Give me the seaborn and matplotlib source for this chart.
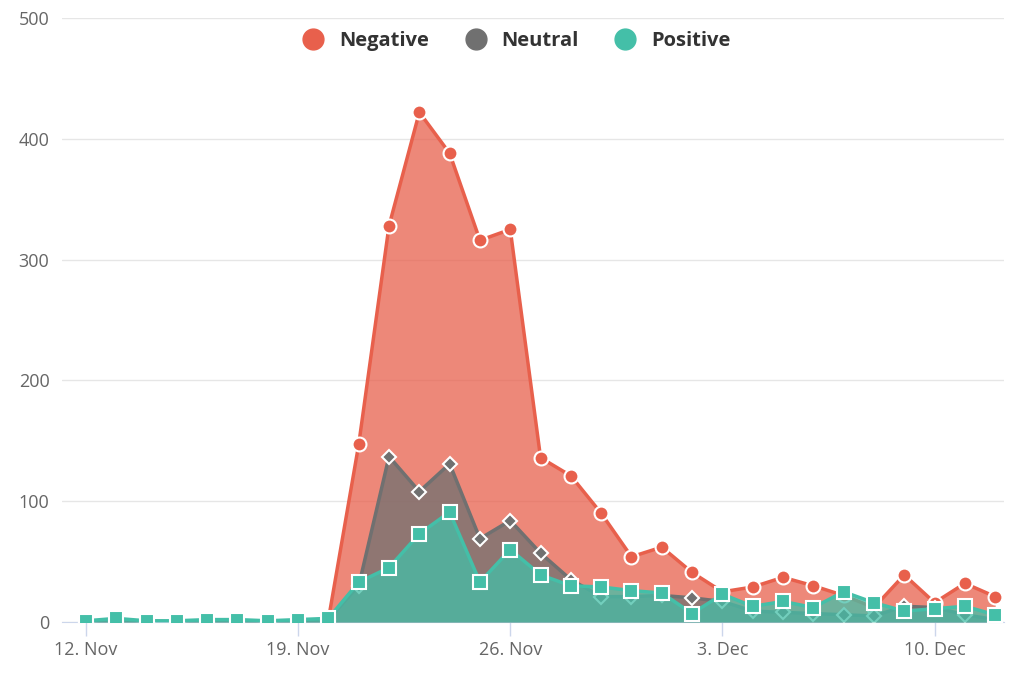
import matplotlib
matplotlib.use("Agg")
import matplotlib.pyplot as plt
import matplotlib.dates as mdates
from matplotlib.lines import Line2D
import seaborn as sns
import pandas as pd

# daily mention counts, 12 Nov - 12 Dec
dates = pd.date_range("2017-11-12", "2017-12-12", freq="D")
negative = [1, 0, 1, 0, 1, 1, 0, 1, 2, 147, 328, 422, 388, 316, 325, 136,
            121, 90, 54, 62, 41, 25, 29, 37, 30, 22, 12, 39, 16, 32, 21]
neutral = [0, 1, 0, 0, 1, 1, 0, 1, 2, 30, 137, 108, 131, 69, 84, 57,
           35, 21, 21, 22, 20, 17, 9, 8, 7, 6, 5, 13, 12, 6, 2]
positive = [1, 3, 1, 1, 2, 2, 1, 2, 3, 33, 45, 73, 91, 33, 60, 39,
            30, 29, 26, 24, 7, 23, 13, 17, 12, 25, 16, 9, 11, 13, 6]
tick_dates = pd.to_datetime(["2017-11-12", "2017-11-19", "2017-11-26",
                             "2017-12-03", "2017-12-10"])

series = [
    ("Negative", negative, "#e8604c", "o", 10),
    ("Neutral", neutral, "#707070", "D", 7.5),
    ("Positive", positive, "#44bfa8", "s", 10),
]

sns.set_style("white")
plt.rcParams["font.family"] = ["Open Sans", "DejaVu Sans"]

fig = plt.figure(figsize=(10.24, 6.83), dpi=100)
ax = fig.add_axes([0.0605, 0.0893, 0.92, 0.8843])

for i, (name, vals, color, marker, ms) in enumerate(series):
    z = 2 + i * 3
    ax.fill_between(dates, vals, 0, color=color, alpha=0.75, lw=0, zorder=z)
    sns.lineplot(x=dates, y=vals, ax=ax, color=color, lw=2.5, marker=marker,
                 markersize=ms, markeredgecolor="white", markeredgewidth=1.5,
                 zorder=z + 1, legend=False)

ax.set_ylim(0, 500)
ax.set_yticks(range(0, 501, 100))
ax.set_xlim(dates[0] - pd.Timedelta(hours=19), dates[-1] + pd.Timedelta(hours=7))
ax.set_xticks(tick_dates)
ax.xaxis.set_major_formatter(mdates.DateFormatter("%-d. %b"))

ax.grid(axis="y", color="#e6e6e6", lw=1)
ax.grid(axis="x", visible=False)
for s in ["top", "right", "left"]:
    ax.spines[s].set_visible(False)
ax.spines["bottom"].set_color("#ccd6eb")
ax.tick_params(axis="x", colors="#666666", labelsize=13, length=10, width=1,
               direction="out", bottom=True)
ax.tick_params(axis="x", color="#ccd6eb")
ax.tick_params(axis="y", colors="#666666", labelsize=13, length=0, pad=9)
ax.set_xlabel("")
ax.set_ylabel("")

handles = [Line2D([], [], ls="none", marker="o", markersize=15, color=c,
                  markeredgecolor=c) for _, _, c, _, _ in series]
fig.legend(handles, [s[0] for s in series], loc="center", ncol=3,
           bbox_to_anchor=(0.5, 0.94), frameon=False, handletextpad=0.3,
           columnspacing=1.3, prop={"weight": "bold", "size": 14.5},
           labelcolor="#333333")

fig.savefig("out.png", dpi=100)
